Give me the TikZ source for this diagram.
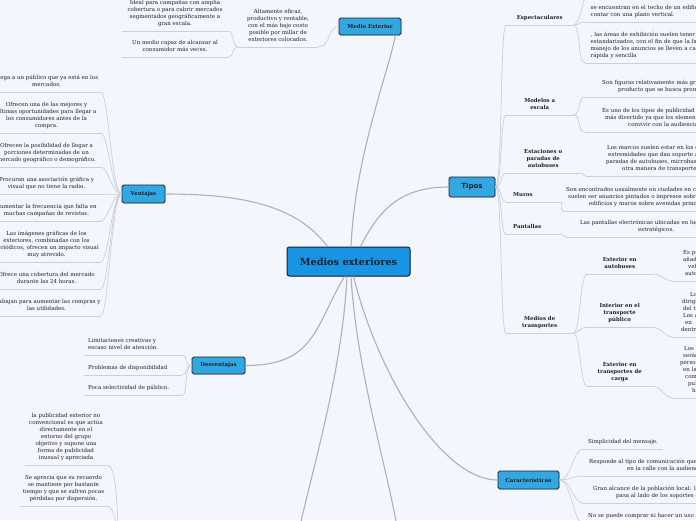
\documentclass[tikz,border=0pt]{standalone}
\usepackage{fontspec}
\setmainfont{DejaVu Serif}
\newfontfamily\tiposfont{DejaVu Sans}
\usetikzlibrary{calc,shadows}
\definecolor{bgc}{RGB}{244,246,253}
\definecolor{rootc}{RGB}{24,148,228}
\definecolor{brc}{RGB}{50,168,226}
\definecolor{bord}{RGB}{28,32,40}
\definecolor{mainl}{RGB}{176,176,182}
\definecolor{leafl}{RGB}{204,207,218}
\definecolor{txt}{RGB}{30,30,38}
\tikzset{
  leaf/.style={font=\fontsize{5.5}{7}\selectfont, text=txt, inner xsep=0pt, inner ysep=3.4pt,
    execute at begin node=\strut, execute at end node=\strut},
  cleaf/.style={leaf, align=center, minimum width=#1},
  lleaf/.style={leaf, align=left, text width=#1},
  bleaf/.style={font=\bfseries\fontsize{5.4}{7}\selectfont, text=txt, inner xsep=0pt, inner ysep=3pt,
    align=center, execute at begin node=\strut, execute at end node=\strut},
  brn/.style={draw=bord, fill=brc, rounded corners=1.8pt, line width=0.9pt, text=txt,
    font=\bfseries\fontsize{5.4}{7}\selectfont, inner sep=0pt,
    drop shadow={opacity=0.3,shadow xshift=0.7pt,shadow yshift=-0.7pt}},
  rootn/.style={draw=bord, fill=rootc, rounded corners=2.5pt, line width=1pt, text=txt,
    font=\bfseries\fontsize{9.7}{12}\selectfont, inner sep=0pt,
    drop shadow={opacity=0.3,shadow xshift=0.8pt,shadow yshift=-0.8pt}},
  mainline/.style={draw=mainl, line width=1.1pt},
  leafline/.style={draw=leafl, line width=0.7pt}
}
\newcommand\uln[1]{\draw[leafline] (#1.south west) -- (#1.south east);}
\begin{document}
\begin{tikzpicture}[x=1pt,y=-1pt]
\useasboundingbox (0,0) rectangle (696,520);
\fill[bgc] (0,0) rectangle (696,520);
\clip (0,0) rectangle (696,520);

% ---------- main nodes ----------
\node[rootn, minimum width=123, minimum height=29] (root) at (348.5,261.5) {Medios exteriores};
\node[brn, minimum width=62, minimum height=17] (me) at (370,26.5) {Medio Exterior};
\node[brn, minimum width=43, minimum height=18] (ven) at (143.5,194) {Ventajas};
\node[brn, minimum width=53, minimum height=17] (des) at (218.5,365.5) {Desventajas};
\node[brn, minimum width=61, minimum height=18] (car) at (528.5,480) {Características};
\node[brn, minimum width=46, minimum height=20, font=\tiposfont\bfseries\fontsize{7}{8}\selectfont] (tip) at (472,187) {Tipos};
\coordinate (offA) at (297,540);
\coordinate (offB) at (399,540);

% ---------- main connectors ----------
\draw[mainline] ($(root.north)+(2.5,0)$) .. controls +(4,-90) and +(-8,40) .. ($(me.south east)+(-6,0)$);
\draw[mainline] ($(root.north)+(-21,0)$) .. controls +(-30,-40) and +(80,0) .. (ven.east);
\draw[mainline] ($(root.north)+(12,0)$) .. controls +(20,-40) and +(-45,0) .. (tip.west);
\draw[mainline] ($(root.south)+(-4,0)$) .. controls +(-30,50) and +(70,0) .. (des.east);
\draw[mainline] ($(root.south)+(5,0)$) .. controls +(25,100) and +(-55,0) .. (car.west);
\draw[mainline] ($(root.south)+(-1.5,0)$) .. controls +(-5,100) and +(12,-60) .. (offA);
\draw[mainline] ($(root.south)+(2.5,0)$) .. controls +(6,100) and +(-8,-60) .. (offB);

% ---------- Medio Exterior ----------
\node[cleaf=80, anchor=south] (alt) at (278,47) {Altamente eficaz,\\productivo y rentable,\\con el más bajo costo\\posible por millar de\\exteriores colocados.};
\node[cleaf=106, anchor=south] (ideal) at (175,31) {Ideal para campañas con amplia\\cobertura o para cubrir mercados\\segmentados geográficamente a\\gran escala.};
\node[cleaf=106, anchor=south] (capaz) at (175,57) {Un medio capaz de alcanzar al\\consumidor más veces.};
\uln{alt}\uln{ideal}\uln{capaz}
\draw[leafline] (alt.south east) .. controls +(12,0) and +(-10,0) .. (me.west);
\draw[leafline] (alt.south west) .. controls +(-6,0) and +(6,0) .. (ideal.south east);
\draw[leafline] (alt.south west) .. controls +(-6,0) and +(6,0) .. (capaz.south east);

% ---------- Ventajas ----------
\node[cleaf=108, anchor=south] (v1) at (46.5,92) {Llega a un público que ya está en los\\mercados.};
\node[cleaf=108, anchor=south] (v2) at (46.5,133) {Ofrecen una de las mejores y\\últimas oportunidades para llegar a\\los consumidores antes de la\\compra.};
\node[cleaf=108, anchor=south] (v3) at (46.5,167) {Ofrecen la posibilidad de llegar a\\porciones determinadas de un\\mercado geográfico o demográfico.};
\node[cleaf=108, anchor=south] (v4) at (46.5,194) {Procuran una asociación gráfica y\\visual que no tiene la radio.};
\node[cleaf=108, anchor=south] (v5) at (46.5,221) {Aumentar la frecuencia que falta en\\muchas campañas de revistas.};
\node[cleaf=108, anchor=south] (v6) at (46.5,262) {Las imágenes gráficas de los\\exteriores, combinadas con los\\periódicos, ofrecen un impacto visual\\muy atrevido.};
\node[cleaf=108, anchor=south] (v7) at (46.5,289) {Ofrece una cobertura del mercado\\durante las 24 horas.};
\node[cleaf=108, anchor=south] (v8) at (46.5,316) {Trabajan para aumentar las compras y\\las utilidades.};
\foreach \n in {v1,v2,v3,v4,v5,v6,v7,v8}{
  \uln{\n}
  \draw[leafline] (ven.west) .. controls +(-10,0) and +(8,0) .. (\n.south east);
}

% ---------- Desventajas ----------
\node[lleaf=90, inner xsep=4pt, anchor=south west] (d1) at (84,355) {Limitaciones creativas y\\escaso nivel de atención.};
\node[lleaf=90, inner xsep=4pt, anchor=south west] (d2) at (84,375) {Problemas de disponibilidad};
\node[lleaf=90, inner xsep=4pt, anchor=south west] (d3) at (84,395) {Poca selectividad de público.};
\foreach \n in {d1,d2,d3}{
  \uln{\n}
  \draw[leafline] (des.west) .. controls +(-8,0) and +(6,0) .. (\n.south east);
}

% ---------- bottom left ----------
\coordinate (offC) at (118,548);
\node[cleaf=82, anchor=south] (b1) at (66,465) {la publicidad exterior no\\convencional es que actúa\\directamente en el\\entorno del grupo\\objetivo y supone una\\forma de publicidad\\inusual y apreciada};
\node[cleaf=87, anchor=south] (b2) at (63.5,506) {Se aprecia que su recuerdo\\se mantiene por bastante\\tiempo y que se sufren pocas\\pérdidas por dispersión.};
\uln{b1}\uln{b2}
\draw[leafline] (b1.south east) .. controls +(8,0) and +(0,-50) .. (offC);
\draw[leafline] (b2.south east) .. controls +(7,0) and +(0,-20) .. (offC);

% ---------- Tipos ----------
\node[bleaf, minimum width=67, anchor=south west] (t1) at (506,25) {Espectaculares};
\node[bleaf, minimum width=67, anchor=south west] (t2) at (506,115) {Modelos a\\escala};
\node[bleaf, minimum width=74, anchor=south west] (t3) at (506,173) {Estaciones o\\paradas de\\autobuses};
\node[bleaf, align=left, text width=40, inner xsep=7pt, anchor=south west] (t4) at (506,202) {Muros};
\node[bleaf, align=left, text width=40, inner xsep=7pt, anchor=south west] (t5) at (506,234) {Pantallas};
\node[bleaf, minimum width=67, anchor=south west] (t6) at (506,333) {Medios de\\transportes};
\foreach \n in {t1,t2,t3,t4,t5,t6}{
  \uln{\n}
  \draw[leafline] (tip.east) .. controls +(7,0) and +(-6,0) .. (\n.south west);
}

\coordinate (offE) at (592,-14);
\node[lleaf=175, inner xsep=5.5pt, anchor=south west] (e1) at (585,22) {se encuentran en el techo de un edificio\\contar con una plano vertical.};
\node[lleaf=175, inner xsep=5.5pt, anchor=south west] (e2) at (585,63) {, las áreas de exhibición suelen tener tamaños\\estandarizados, con el fin de que la fabricación\\manejo de los anuncios se lleven a cabo\\rápida y sencilla};
\uln{e1}\uln{e2}
\draw[leafline] (t1.south east) .. controls +(8,0) and +(-8,0) .. (offE);
\draw[leafline] (t1.south east) .. controls +(6,0) and +(-6,0) .. (e1.south west);
\draw[leafline] (t1.south east) .. controls +(8,0) and +(-8,0) .. (e2.south west);

\node[lleaf=175, inner xsep=2pt, anchor=south west] (m1) at (585,97) {\hspace*{15pt}Son figuras relativamente más grandes\\\hspace*{31pt}producto que se busca promocionar};
\node[lleaf=175, inner xsep=2pt, anchor=south west] (m2) at (585,132) {\hspace*{15pt}Es uno de los tipos de publicidad en\\\hspace*{18pt}más divertido ya que los elementos\\\hspace*{41pt}convivir con la audiencia};
\uln{m1}\uln{m2}
\draw[leafline] (t2.south east) .. controls +(8,0) and +(-8,0) .. (m1.south west);
\draw[leafline] (t2.south east) .. controls +(8,0) and +(-8,0) .. (m2.south west);

\node[lleaf=175, inner xsep=2pt, anchor=south west] (s1) at (586,176) {\hspace*{19pt}Los marcos suelen estar en los costados\\\hspace*{20pt}extremidades que dan soporte al techo\\\hspace*{18pt}paradas de autobuses, microbuses\\\hspace*{34pt}otra manera de transporte público};
\uln{s1}
\draw[leafline] (t3.south east) .. controls +(4,0) and +(-4,0) .. (s1.south west);

\node[lleaf=175, inner xsep=2pt, anchor=south west] (w1) at (563,211) {\hspace*{1pt}Son encontrados usualmente en ciudades en crecimiento\\\hspace*{3pt}suelen ser anuncios pintados o impresos sobre las\\\hspace*{24pt}edificios y muros sobre avenidas principales};
\uln{w1}
\draw[leafline] (t4.south east) .. controls +(4,0) and +(-4,0) .. (w1.south west);

\node[lleaf=175, inner xsep=2pt, anchor=south west] (p1) at (567,237) {\hspace*{11pt}Las pantallas electrónicas ubicadas en lugares\\\hspace*{69pt}estratégicos.};
\uln{p1}
\draw[leafline] (t5.south east) .. controls +(4,0) and +(-4,0) .. (p1.south west);

% ---------- Medios de transportes ----------
\node[bleaf, minimum width=65, anchor=south west] (r1) at (587,274) {Exterior en\\autobuses};
\node[bleaf, minimum width=65, anchor=south west] (r2) at (587,327) {Interior en el\\transporte\\público};
\node[bleaf, minimum width=65, anchor=south west] (r3) at (587,386) {Exterior en\\transportes de\\carga};
\foreach \n in {r1,r2,r3}{
  \uln{\n}
  \draw[leafline] (t6.south east) .. controls +(7,0) and +(-7,0) .. (\n.south west);
}
\node[lleaf=60, inner xsep=2pt, anchor=south west] (rl1) at (673,281) {\hspace*{8pt}Es publicidad\\\hspace*{8pt}añadida\\\hspace*{13pt}vehículos\\\hspace*{10pt}autobuses};
\node[lleaf=60, inner xsep=2pt, anchor=south west] (rl2) at (673,337) {\hspace*{15pt}Los\\\hspace*{7pt}dirigidos\\\hspace*{8pt}del transporte\\\hspace*{8pt}Los anuncios\\\hspace*{10pt}en\\\hspace*{6pt}dentro};
\node[lleaf=60, inner xsep=2pt, anchor=south west] (rl3) at (673,398) {\hspace*{9pt}Los\\\hspace*{8pt}serán\\\hspace*{5pt}personas\\\hspace*{8pt}en las\\\hspace*{10pt}como\\\hspace*{13pt}publicidad\\\hspace*{17pt}ha};
\uln{rl1}\uln{rl2}\uln{rl3}
\draw[leafline] (r1.south east) .. controls +(8,0) and +(-8,0) .. (rl1.south west);
\draw[leafline] (r2.south east) .. controls +(8,0) and +(-8,0) .. (rl2.south west);
\draw[leafline] (r3.south east) .. controls +(8,0) and +(-8,0) .. (rl3.south west);

% ---------- Características ----------
\node[leaf, align=left, inner xsep=5pt, anchor=south west] (c1) at (583,449) {Simplicidad del mensaje.};
\node[lleaf=175, inner xsep=2pt, anchor=south west] (c2) at (583,476) {\hspace*{4pt}Responde al tipo de comunicación que se\\\hspace*{42pt}en la calle con la audiencia};
\node[lleaf=175, inner xsep=2pt, anchor=south west] (c3) at (583,503) {\hspace*{8pt}Gran alcance de la población local: lo ve\\\hspace*{31pt}pasa al lado de los soportes exteriores};
\node[lleaf=175, inner xsep=2pt, anchor=south west] (c4) at (583,523) {\hspace*{3pt}No se puede comprar ni hacer un uso individual};
\foreach \n in {c1,c2,c3,c4}{
  \uln{\n}
  \draw[leafline] (car.east) .. controls +(12,0) and +(-10,0) .. (\n.south west);
}
\end{tikzpicture}
\end{document}
